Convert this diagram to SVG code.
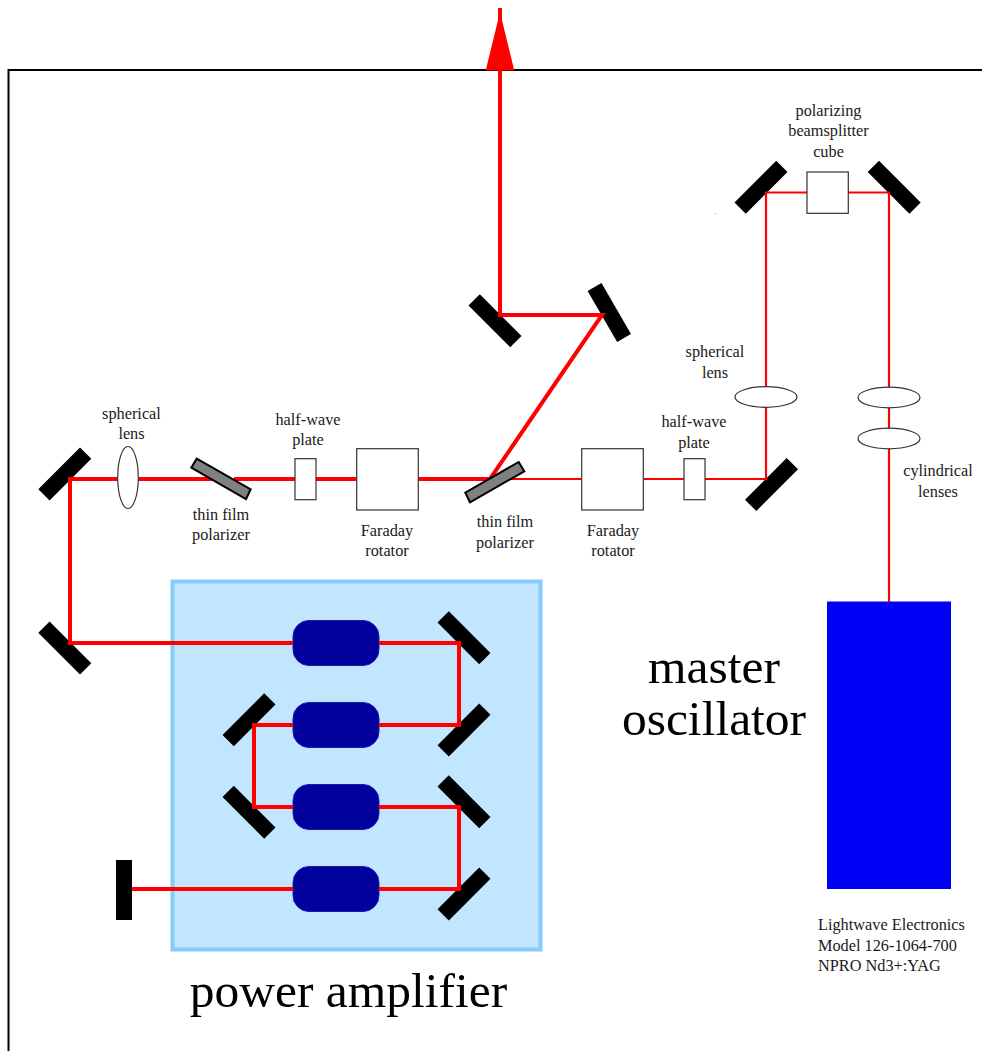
<svg xmlns="http://www.w3.org/2000/svg" width="982" height="1051" viewBox="0 0 982 1051">
<style>
text{font-family:"Liberation Serif","Times New Roman",serif;fill:#1a1a1a;text-anchor:middle}
.s{font-size:16.3px}
.b{font-size:49.5px;fill:#000}
.m{fill:#000}
.o{fill:#fff;stroke:#333;stroke-width:1.2}
.p{fill:#808080;stroke:#000;stroke-width:2}
.g{fill:#00009c;stroke:#1a1ab0;stroke-width:1}
.t{fill:none;stroke:#f00;stroke-width:4;stroke-linejoin:miter}
.n{fill:none;stroke:#f00;stroke-width:2.2}
</style>
<defs>
<rect id="mir" class="m" x="-29.5" y="-8" width="59" height="16"/>
<rect id="rod" class="g" x="0" y="0" width="86" height="45" rx="16" ry="16"/>
</defs>
<rect width="982" height="1051" fill="#fff"/>
<path id="frame" d="M8.500 1051V70H982" fill="none" stroke="#000" stroke-width="2"/>
<g id="power-amplifier">
<rect x="172.500" y="581.500" width="368" height="368" fill="#c2e6ff" stroke="#87cbfa" stroke-width="4"/>
<use href="#rod" x="293" y="620.500"/>
<use href="#rod" x="293" y="702.500"/>
<use href="#rod" x="293" y="784.500"/>
<use href="#rod" x="293" y="866.500"/>
<text class="b" x="348.500" y="1007">power amplifier</text>
</g>
<g id="master-oscillator">
<rect x="827" y="601.500" width="124" height="287.500" fill="#0000f4"/>
<text class="b" x="714" y="683">master</text>
<text class="b" x="714" y="735">oscillator</text>
<text class="s" x="818" y="930" style="text-anchor:start">Lightwave Electronics</text>
<text class="s" x="818" y="951" style="text-anchor:start">Model 126-1064-700</text>
<text class="s" x="818" y="971" style="text-anchor:start">NPRO Nd3+:YAG</text>
</g>
<g id="mirrors">
<use href="#mir" transform="translate(64.800 474) rotate(-45)"/>
<use href="#mir" transform="translate(64.800 648) rotate(45)"/>
<use href="#mir" transform="translate(464 637.800) rotate(45)"/>
<use href="#mir" transform="translate(464 730) rotate(-45)"/>
<use href="#mir" transform="translate(464 801.800) rotate(45)"/>
<use href="#mir" transform="translate(464 894) rotate(-45)"/>
<use href="#mir" transform="translate(249 719.800) rotate(-45)"/>
<use href="#mir" transform="translate(249 812.200) rotate(45)"/>
<use href="#mir" transform="translate(495 320.700) rotate(45)"/>
<use href="#mir" transform="translate(609.300 312.500) rotate(60)"/>
<use href="#mir" transform="translate(771.500 484.500) rotate(-45)"/>
<use href="#mir" transform="translate(761 187.300) rotate(-45)"/>
<use href="#mir" transform="translate(894.200 187.300) rotate(45)"/>
<rect class="m" x="116" y="860" width="16" height="60"/>
</g>
<g id="connectors">
<path class="t" d="M132 889H293M379 889H459V807H379M293 807H254V725H293M379 725H459V643H379M293 643H70V479H213M234 479H295M316 479H357M418 479H490L602 315H500V8"/>
<path class="n" d="M510 479H582M643 479H684M705 479H766V192.500H807M848 192.500H889V602"/>
<path d="M500 12L514.300 70.500H485.700Z" fill="#f00" stroke="none"/>
</g>
<g id="spherical-lens-1"><ellipse class="o" cx="128" cy="477.500" rx="10.300" ry="31"/><text class="s" x="131.500" y="418.500">spherical</text><text class="s" x="131.500" y="439">lens</text></g>
<g id="polarizer-1"><polygon class="p" points="196.700,458.700 250.700,489.300 246,499 191.300,467.700"/><text class="s" x="221" y="519.500">thin film</text><text class="s" x="221" y="540">polarizer</text></g>
<g id="half-wave-1"><rect class="o" x="295" y="458.700" width="21" height="41"/><text class="s" x="308" y="424.500">half-wave</text><text class="s" x="308" y="444.500">plate</text></g>
<g id="faraday-1"><rect class="o" x="356.700" y="448.700" width="61.600" height="61.300"/><text class="s" x="387" y="535.500">Faraday</text><text class="s" x="387" y="555.500">rotator</text></g>
<g id="polarizer-2"><polygon class="p" points="518.700,462 524.300,471.300 470,502.300 465.300,492.700"/><text class="s" x="505" y="526.500">thin film</text><text class="s" x="505" y="547.500">polarizer</text></g>
<g id="faraday-2"><rect class="o" x="581.700" y="448.700" width="61.600" height="61.300"/><text class="s" x="613" y="535.500">Faraday</text><text class="s" x="613" y="555.500">rotator</text></g>
<g id="half-wave-2"><rect class="o" x="684" y="458.700" width="21" height="41"/><text class="s" x="694" y="426.500">half-wave</text><text class="s" x="694" y="447.500">plate</text></g>
<g id="spherical-lens-2"><ellipse class="o" cx="766" cy="397" rx="31" ry="10.300"/><text class="s" x="715" y="356.500">spherical</text><text class="s" x="715" y="377.500">lens</text></g>
<g id="cylindrical-lenses"><ellipse class="o" cx="889" cy="397.500" rx="31" ry="10.300"/><ellipse class="o" cx="889" cy="438.500" rx="31" ry="10.300"/><text class="s" x="938" y="475.500">cylindrical</text><text class="s" x="938" y="496.500">lenses</text></g>
<g id="beamsplitter"><rect class="o" x="807" y="172" width="41.300" height="41.300"/><text class="s" x="828.500" y="115.500">polarizing</text><text class="s" x="828.500" y="135.500">beamsplitter</text><text class="s" x="828.500" y="156.500">cube</text></g>
<rect x="715" y="213" width="1" height="1" fill="#999"/>
</svg>
